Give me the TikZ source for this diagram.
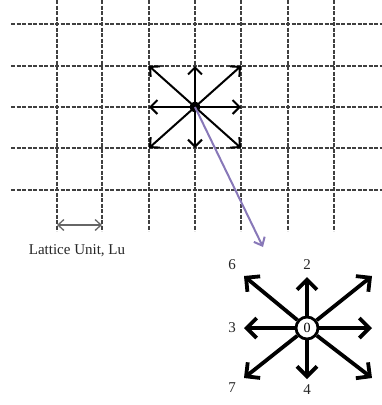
\documentclass[tikz,border=0pt]{standalone}
\usepackage{fontspec}
\setmainfont{Liberation Serif}
\usetikzlibrary{arrows.meta}
\definecolor{purp}{RGB}{136,120,184}
\begin{document}
\begin{tikzpicture}[x=1pt,y=-1pt,
  gridline/.style={draw=black!75, line width=1.1pt, dash pattern=on 4pt off 1.5pt},
  smallarrow/.style={draw=black, line width=2pt, -{Straight Barb[length=7pt,width=14pt]}},
  bigarrow/.style={draw=black, line width=3.8pt, -{Straight Barb[length=10pt,width=20pt]}},
  purplearrow/.style={draw=purp, line width=2pt, -{Straight Barb[length=7pt,width=12pt]}},
  unitarrow/.style={draw=black!60, line width=1.3pt, {Straight Barb[length=6pt,width=11pt]}-{Straight Barb[length=6pt,width=11pt]}},
  lbl/.style={font=\fontsize{15}{17}\selectfont, text=black!85},
  zero/.style={circle, draw=black, line width=2.8pt, fill=white, minimum size=22pt, inner sep=0pt, font=\fontsize{14}{16}\selectfont}
]
\useasboundingbox (0,0) rectangle (382,405);
% grid
\foreach \x in {57,102,149,195,241,288,334} \draw[gridline] (\x,0) -- (\x,231);
\foreach \y in {24,66,107,148,190} \draw[gridline] (11,\y) -- (382,\y);
% top star
\coordinate (c) at (195,107);
\coordinate (a) at (149,66);
\coordinate (b) at (195,66);
\coordinate (d) at (241,66);
\coordinate (e) at (149,107);
\coordinate (f) at (241,107);
\coordinate (g) at (149,148);
\coordinate (h) at (195,148);
\coordinate (i) at (241,148);
\foreach \n in {a,b,d,e,f,g,h,i} \draw[smallarrow] (c) -- (\n);
\node[circle, fill=black, minimum size=11pt, inner sep=0pt] (dot) at (c) {};
% purple arrow
\coordinate (pe) at (263,247);
\draw[purplearrow] (dot.center) -- (pe);
% lattice unit
\coordinate (u1) at (57,225);
\coordinate (u2) at (102,225);
\draw[unitarrow] (u1) -- (u2);
\node[lbl] (lu) at (77,251) {Lattice Unit, Lu};
% bottom star
\node[zero] (z) at (307,328) {0};
\coordinate (s2) at (307,277);
\coordinate (s4) at (307,379);
\coordinate (s3) at (244,328);
\coordinate (s1) at (372,328);
\coordinate (s6) at (244,276);
\coordinate (s5) at (372,276);
\coordinate (s7) at (244,378);
\coordinate (s8) at (372,378);
\foreach \n in {s1,s2,s3,s4,s5,s6,s7,s8} \draw[bigarrow] (z) -- (\n);
\node[lbl] (l6) at (232,265) {6};
\node[lbl] (l2) at (307,265) {2};
\node[lbl] (l3) at (232,328) {3};
\node[lbl] (l7) at (232,388) {7};
\node[lbl] (l4) at (307,390) {4};
\end{tikzpicture}
\end{document}
